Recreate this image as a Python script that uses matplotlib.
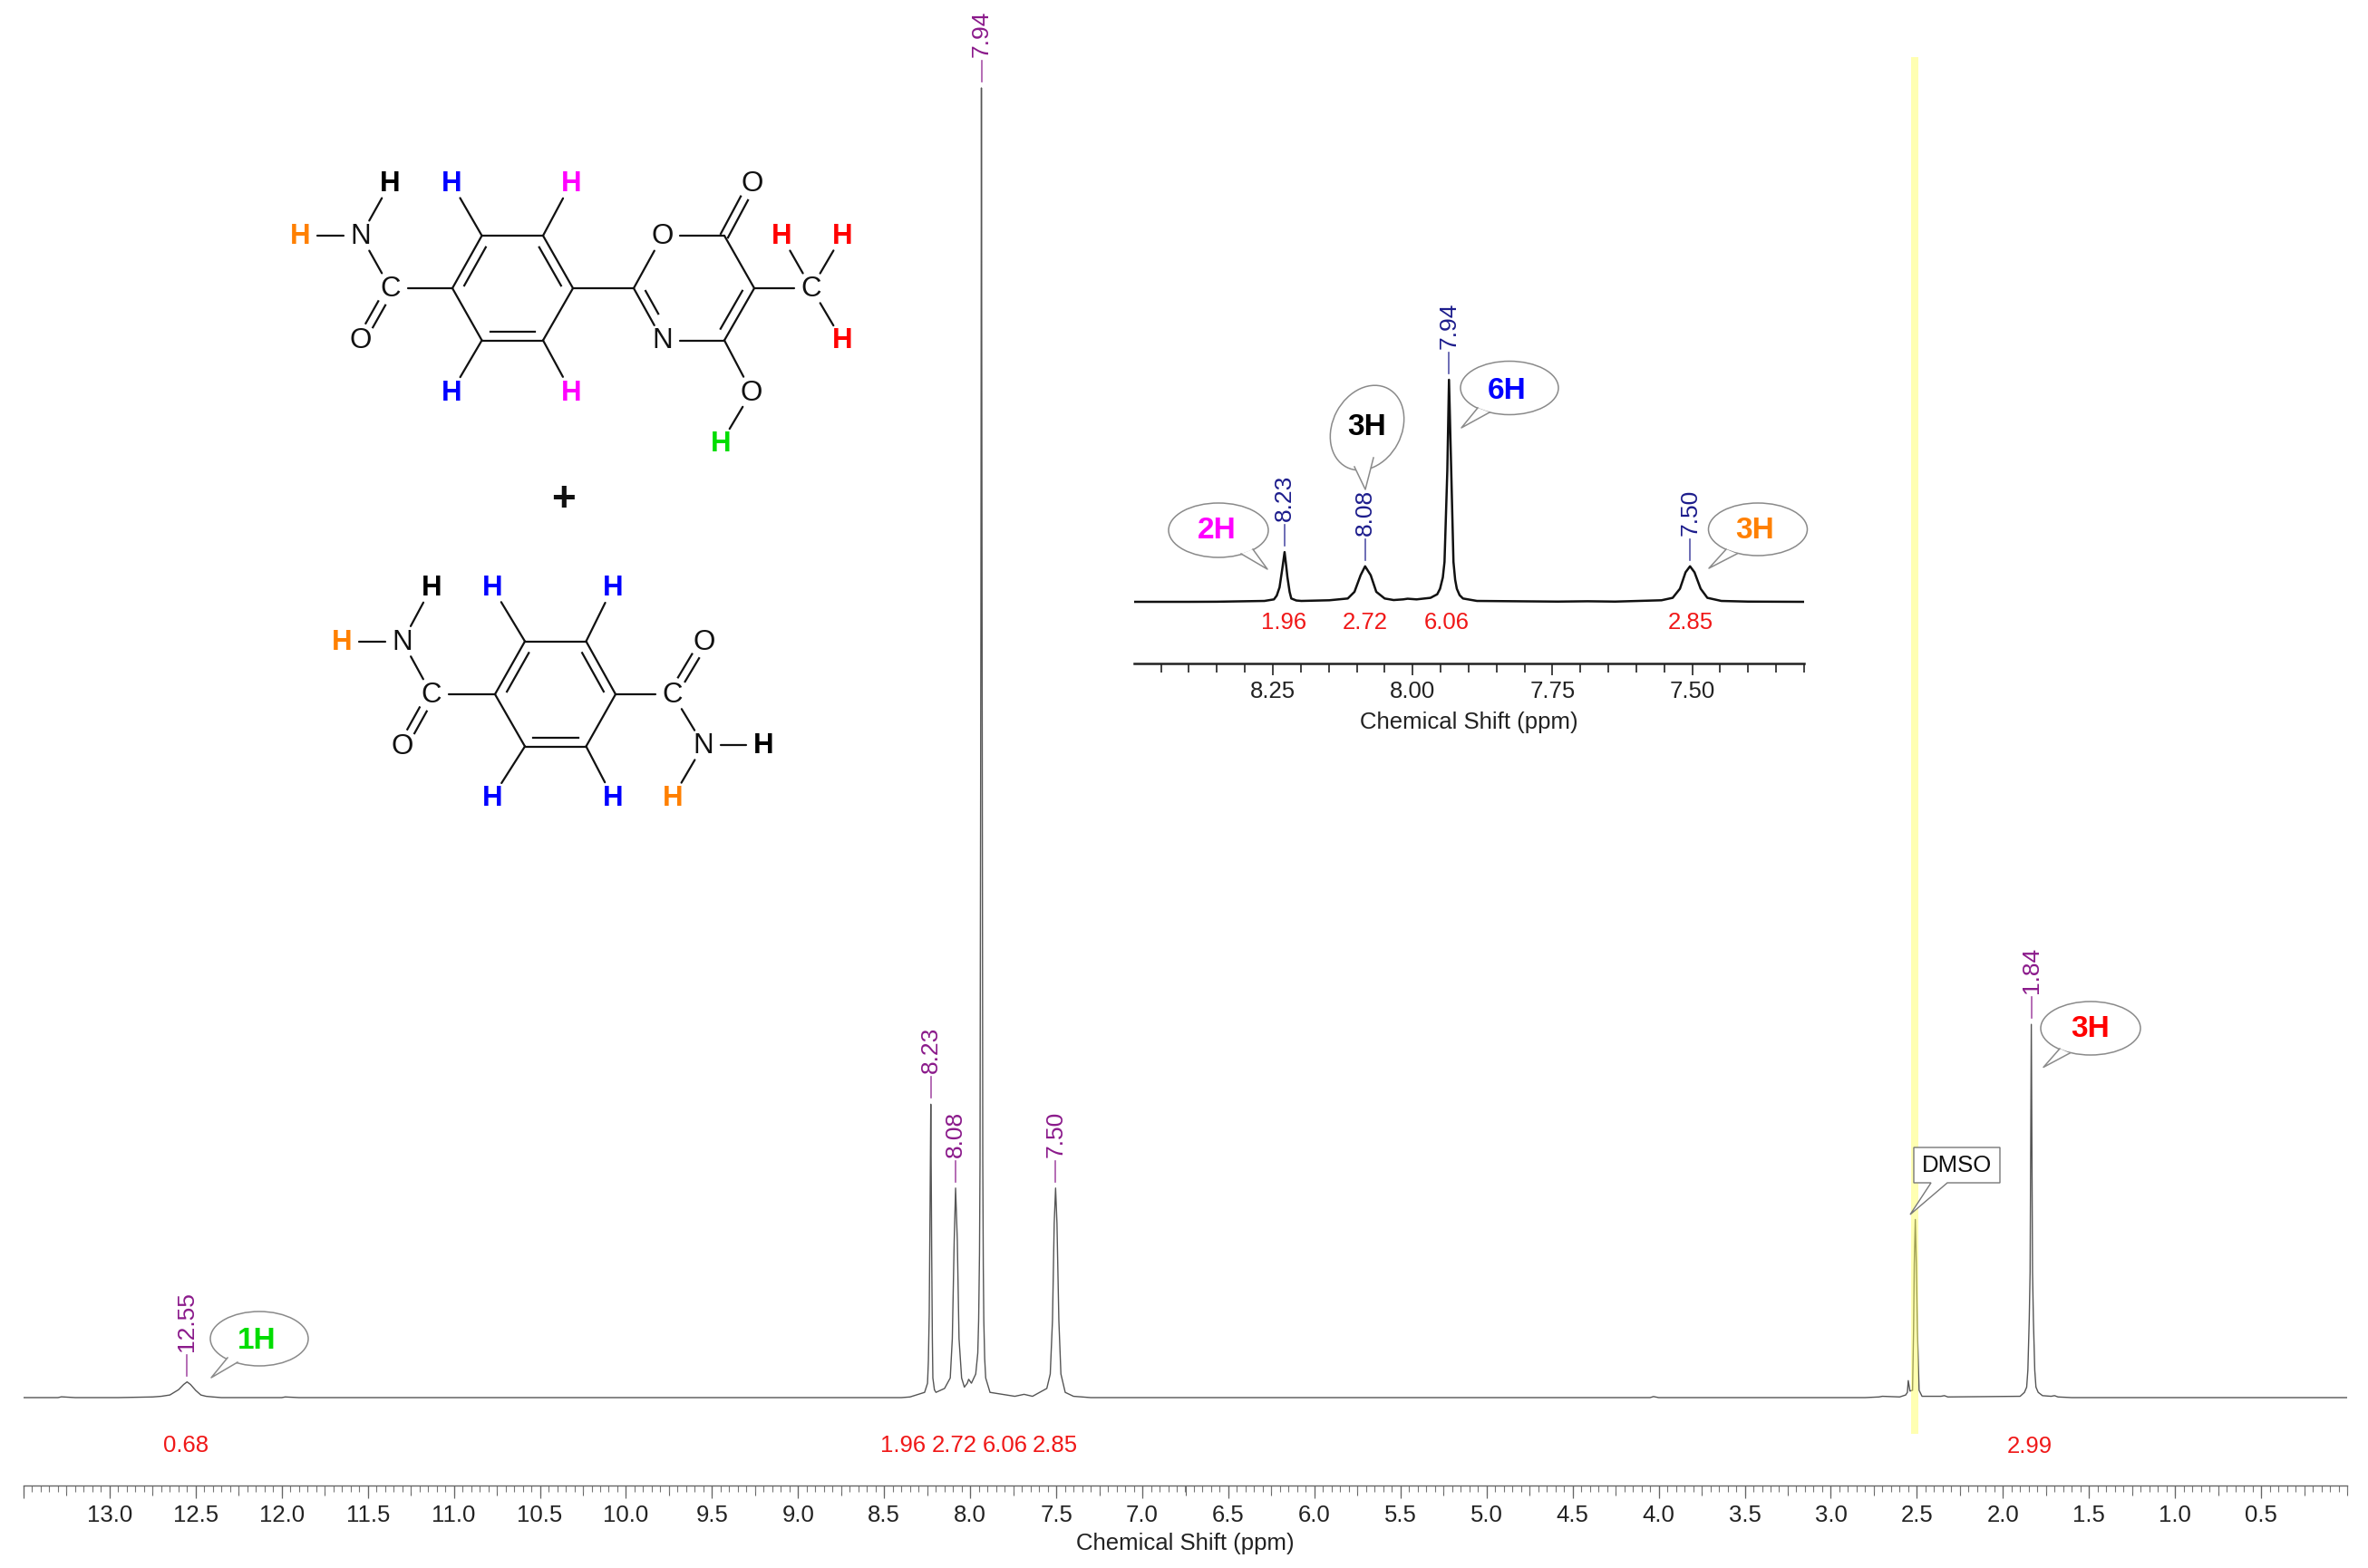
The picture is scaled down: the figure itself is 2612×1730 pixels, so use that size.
import matplotlib
matplotlib.use('Agg')
import matplotlib.pyplot as plt
from matplotlib.patches import Ellipse, Polygon, Rectangle
from matplotlib.ticker import MultipleLocator

plt.rcParams['font.family'] = ['Liberation Sans', 'DejaVu Sans']

# spectrum trace (ppm, intensity with tallest peak = 100)
trace_ppm = [13.5, 13.3, 13.28, 13.2, 12.95, 12.75, 12.7, 12.65, 12.6, 12.57, 12.55, 12.53, 12.5, 12.47, 12.44,
             12.4, 12.35, 12.0, 11.98, 11.9, 8.4, 8.35, 8.265, 8.248, 8.243, 8.238, 8.233, 8.229, 8.226, 8.224,
             8.22, 8.217, 8.208, 8.199, 8.149, 8.116, 8.104, 8.093, 8.085, 8.075, 8.065, 8.05, 8.034, 8.017,
             8.009, 7.993, 7.968, 7.956, 7.951, 7.946, 7.943, 7.938, 7.935, 7.931, 7.927, 7.924, 7.921, 7.916, 7.91, 7.885, 7.741, 7.687,
             7.638, 7.555, 7.535, 7.522, 7.512, 7.504, 7.496, 7.485, 7.473, 7.448, 7.4, 7.35, 7.3, 6.0, 4.05,
             4.03, 4.0, 2.8, 2.72, 2.7, 2.6, 2.565, 2.555, 2.55, 2.54, 2.525, 2.519, 2.515, 2.509, 2.503, 2.497,
             2.487, 2.47, 2.36, 2.34, 2.32, 1.9, 1.875, 1.862, 1.855, 1.847, 1.842, 1.835, 1.828, 1.823, 1.815,
             1.808, 1.795, 1.77, 1.72, 1.7, 1.68, 1.6, 0.0]
trace_int = [0, 0, 0.06, 0, 0, 0.05, 0.1, 0.2, 0.6, 1.0, 1.2, 1.0, 0.55, 0.2, 0.1,
             0.05, 0, 0, 0.05, 0, 0, 0.05, 0.4, 1.1, 2.8, 6.5, 15, 22.4, 16, 11.3,
             4.5, 1.5, 0.6, 0.4, 0.7, 1.5, 4.5, 12, 16, 12, 4.5, 1.5, 0.8, 1.1,
             1.4, 1.1, 1.8, 3.4, 5.9, 11, 18, 59, 100, 59, 18, 10, 5.9, 3.0, 1.5, 0.4, 0.1, 0.25,
             0.1, 0.7, 1.8, 5.9, 13.3, 16, 13.3, 5.9, 1.8, 0.4, 0.1, 0.05, 0, 0, 0,
             0.08, 0, 0, 0.05, 0.1, 0.05, 0.2, 0.4, 1.3, 0.5, 0.56, 5.2, 10.2, 13.6, 10.2, 5.2,
             0.56, 0.1, 0.1, 0.15, 0.05, 0.1, 0.4, 0.8, 2.1, 6, 9.6, 28.5, 9.6, 6, 2.1,
             0.8, 0.4, 0.15, 0.1, 0.15, 0.05, 0, 0]

peak_ppm = [12.55, 8.229, 8.085, 7.935, 7.504, 1.835]
peak_int = [1.2, 22.4, 16, 100, 16, 28.5]
peak_labels = ['12.55', '8.23', '8.08', '7.94', '7.50', '1.84']

inset_peak_ppm = [8.229, 8.085, 7.935, 7.504]
inset_peak_int = [22.4, 16, 100, 16]
inset_peak_labels = ['8.23', '8.08', '7.94', '7.50']

major_ticks = [13.5, 13.0, 12.5, 12.0, 11.5, 11.0, 10.5, 10.0, 9.5, 9.0, 8.5, 8.0, 7.5, 7.0, 6.5, 6.0, 5.5, 5.0,
               4.5, 4.0, 3.5, 3.0, 2.5, 2.0, 1.5, 1.0, 0.5]
major_labels = ['', '13.0', '12.5', '12.0', '11.5', '11.0', '10.5', '10.0', '9.5', '9.0', '8.5', '8.0', '7.5', '7.0',
                '6.5', '6.0', '5.5', '5.0', '4.5', '4.0', '3.5', '3.0', '2.5', '2.0', '1.5', '1.0', '0.5']
inset_ticks = [8.25, 8.0, 7.75, 7.5]
inset_tick_labels = ['8.25', '8.00', '7.75', '7.50']

W, H = 2612, 1730
PURPLE = '#8b1a8b'
NAVY = '#1c1c8c'
RED = '#f01818'


def axes_px(fig, left, right, top, bottom):
    return fig.add_axes([left / W, 1 - bottom / H, (right - left) / W, (bottom - top) / H])


def label_peaks(ax, ppm, heights, labels, px_per_unit, color, size):
    for p, h, lab in zip(ppm, heights, labels):
        ax.plot([p, p], [h + 7 / px_per_unit, h + 30 / px_per_unit], color=color, lw=1.2, clip_on=False, alpha=0.75)
        ax.text(p, h + 34 / px_per_unit, lab, rotation=90, ha='center', va='bottom', color=color, fontsize=size)


def callout(ov, center, w, h, tip, base1, base2, text, text_xy, color, angle=0, size=24):
    ov.add_patch(Ellipse(center, w, h, angle=angle, fc='white', ec='#8a8a8a', lw=1.1, zorder=5))
    ov.add_patch(Polygon([base1, tip, base2], fc='white', ec='none', zorder=6))
    ov.plot([base1[0], tip[0], base2[0]], [base1[1], tip[1], base2[1]], color='#8a8a8a', lw=1.1, zorder=7)
    ov.text(text_xy[0], text_xy[1], text, color=color, fontsize=size, fontweight='bold', ha='center', va='center', zorder=8)


def draw_molecule(ov, atoms, bonds):
    for a, b, kind in bonds:
        x1, y1, t1, _ = atoms[a]
        x2, y2, t2, _ = atoms[b]
        d = ((x2 - x1) ** 2 + (y2 - y1) ** 2) ** 0.5
        ux, uy = (x2 - x1) / d, (y2 - y1) / d
        s1 = 19 if t1 else 0
        s2 = 19 if t2 else 0
        ax1, ay1 = x1 + ux * s1, y1 + uy * s1
        ax2, ay2 = x2 - ux * s2, y2 - uy * s2
        if kind == 2:
            # C=O, two lines either side of the axis
            for off in (-4.5, 4.5):
                ov.plot([ax1 - uy * off, ax2 - uy * off], [ay1 + ux * off, ay2 + ux * off], color='#111111', lw=1.6)
        else:
            ov.plot([ax1, ax2], [ay1, ay2], color='#111111', lw=1.6, solid_capstyle='round')
            if kind != 1:
                # inner line of a ring double bond, kind is the ring centre
                nx, ny = -uy, ux
                if (kind[0] - x1) * nx + (kind[1] - y1) * ny < 0:
                    nx, ny = -nx, -ny
                t1_ = 9 + s1
                t2_ = 9 + s2
                ov.plot([x1 + ux * t1_ + nx * 10, x2 - ux * t2_ + nx * 10],
                        [y1 + uy * t1_ + ny * 10, y2 - uy * t2_ + ny * 10], color='#111111', lw=1.6)
    for x, y, t, c in atoms.values():
        if t:
            ov.text(x, y + 1, t, ha='center', va='center', fontsize=22.5, color=c,
                    fontweight='bold' if t == 'H' else 'normal')


def main():
    fig = plt.figure(figsize=(W / 100, H / 100), dpi=100, facecolor='white')

    # main spectrum
    ax = axes_px(fig, 26, 2589, 0, 1639)
    main_u = 14.45
    ax.set_xlim(13.5, 0.0)
    ax.set_ylim(-(1639 - 1542) / main_u, 1542 / main_u)
    ax.patch.set_alpha(0)
    ax.plot(trace_ppm, trace_int, color='#555555', lw=1.0, solid_joinstyle='round')
    for s in ['top', 'left', 'right']:
        ax.spines[s].set_visible(False)
    ax.spines['bottom'].set_color('#666666')
    ax.spines['bottom'].set_linewidth(1.0)
    ax.set_yticks([])
    ax.set_xticks(major_ticks, labels=major_labels)
    ax.xaxis.set_minor_locator(MultipleLocator(0.05))
    ax.tick_params(axis='x', which='major', length=10, width=0.9, color='#666666', labelsize=18.5, labelcolor='#222222', pad=5)
    ax.tick_params(axis='x', which='minor', length=5, width=0.8, color='#777777')
    sec = ax.secondary_xaxis('bottom')
    sec.xaxis.set_major_locator(MultipleLocator(0.25))
    sec.tick_params(axis='x', length=8, width=0.8, color='#666666', labelbottom=False)
    sec.spines['bottom'].set_visible(False)
    ax.set_xlabel('Chemical Shift (ppm)', fontsize=18.5, color='#222222', labelpad=5)
    label_peaks(ax, peak_ppm, peak_int, peak_labels, main_u, PURPLE, 19)

    # inset
    ins = axes_px(fig, 1251, 1990, 400, 732)
    ins_u = 2.45
    ins.set_xlim(8.498, 7.30)
    ins.set_ylim(-(732 - 664) / ins_u, (664 - 400) / ins_u)
    ins.patch.set_alpha(0)
    ins.plot(trace_ppm, trace_int, color='#111111', lw=1.8, solid_joinstyle='round')
    for s in ['top', 'left', 'right']:
        ins.spines[s].set_visible(False)
    ins.spines['bottom'].set_color('#222222')
    ins.spines['bottom'].set_linewidth(1.8)
    ins.set_yticks([])
    ins.set_xticks(inset_ticks, labels=inset_tick_labels)
    ins.xaxis.set_minor_locator(MultipleLocator(0.05))
    ins.tick_params(axis='x', which='major', length=9, width=1.2, color='#222222', labelsize=18.5, labelcolor='#222222', pad=5)
    ins.tick_params(axis='x', which='minor', length=7, width=1.2, color='#222222')
    ins.set_xlabel('Chemical Shift (ppm)', fontsize=18.5, color='#222222', labelpad=7)
    label_peaks(ins, inset_peak_ppm, inset_peak_int, inset_peak_labels, ins_u, NAVY, 19)

    # overlay in picture pixels for the drawn annotations
    ov = fig.add_axes([0, 0, 1, 1])
    ov.set_xlim(0, W)
    ov.set_ylim(H, 0)
    ov.axis('off')
    ov.patch.set_alpha(0)

    ov.add_patch(Rectangle((2108, 63), 8, 1519, fc='#ffff55', ec='none', alpha=0.45, zorder=1))

    for x, y, t in [(205, 1595, '0.68'), (996, 1595, '1.96'), (1053, 1595, '2.72'), (1109, 1595, '6.06'),
                    (1164, 1595, '2.85'), (2239, 1596, '2.99')]:
        ov.text(x, y, t, color=RED, fontsize=18.5, ha='center', va='center')
    for x, y, t in [(1416, 687, '1.96'), (1506, 687, '2.72'), (1596, 687, '6.06'), (1865, 687, '2.85')]:
        ov.text(x, y, t, color=RED, fontsize=18.5, ha='center', va='center')

    callout(ov, (286, 1477), 108, 60, (233, 1520), (251, 1498), (262, 1503), '1H', (283, 1480), '#00dd00')
    callout(ov, (2306, 1134.5), 110, 59, (2254, 1177.5), (2272, 1157), (2283, 1162), '3H', (2306, 1136), '#ff0000')
    callout(ov, (1344, 585), 110, 60, (1398, 628), (1369, 611), (1382, 606), '2H', (1342, 586), '#ff00ff')
    callout(ov, (1508, 472), 98, 76, (1506, 540), (1494, 515), (1515, 505), '3H', (1508, 471), '#000000', angle=-62)
    callout(ov, (1665, 428), 108, 59, (1612, 472), (1630, 450), (1643, 455), '6H', (1662, 431), '#0000ff')
    callout(ov, (1939, 584), 109, 58, (1885, 627), (1904, 606), (1916, 611), '3H', (1936, 586), '#ff8000')

    # DMSO box
    ov.add_patch(Polygon([(2111, 1266), (2206, 1266), (2206, 1305), (2148, 1305), (2107, 1340), (2130, 1305), (2111, 1305)],
                         fc='white', ec='#777777', lw=1.0, zorder=5))
    ov.text(2158, 1286, 'DMSO', fontsize=18.5, color='#111111', ha='center', va='center', zorder=6)

    ov.text(622, 552, '+', fontsize=33, fontweight='bold', color='#111111', ha='center', va='center')

    k = '#111111'
    mol1 = {
        'a1': (499, 318, None, k), 'a2': (531.5, 260, None, k), 'a3': (599, 260, None, k),
        'a4': (632, 318, None, k), 'a5': (599, 375.5, None, k), 'a6': (531.5, 375.5, None, k),
        'C': (430.5, 318, 'C', k), 'O': (398, 375.5, 'O', k), 'N': (398, 260, 'N', k),
        'Hk': (430.5, 202, 'H', '#000000'), 'Ho': (331, 260, 'H', '#ff8000'),
        'Hb1': (498, 202, 'H', '#0000ff'), 'Hm1': (630, 202, 'H', '#ff00ff'),
        'Hb2': (498, 432.5, 'H', '#0000ff'), 'Hm2': (630, 432.5, 'H', '#ff00ff'),
        'b1': (699, 318, None, k), 'bO': (731, 260, 'O', k), 'b3': (799, 260, None, k),
        'b4': (832, 318, None, k), 'b5': (799, 375.5, None, k), 'bN': (731, 375.5, 'N', k),
        'Oc': (830, 202, 'O', k), 'Cm': (895, 318, 'C', k),
        'Hr1': (862, 260, 'H', '#ff0000'), 'Hr2': (929, 260, 'H', '#ff0000'), 'Hr3': (929, 375.5, 'H', '#ff0000'),
        'Oh': (829, 432.5, 'O', k), 'Hg': (795, 489.5, 'H', '#00dd00'),
    }
    ca = (565, 318)
    cb = (765, 318)
    bonds1 = [
        ('a1', 'a2', ca), ('a2', 'a3', 1), ('a3', 'a4', ca), ('a4', 'a5', 1), ('a5', 'a6', ca), ('a6', 'a1', 1),
        ('a1', 'C', 1), ('C', 'O', 2), ('C', 'N', 1), ('N', 'Hk', 1), ('N', 'Ho', 1),
        ('a2', 'Hb1', 1), ('a3', 'Hm1', 1), ('a6', 'Hb2', 1), ('a5', 'Hm2', 1), ('a4', 'b1', 1),
        ('b1', 'bO', 1), ('bO', 'b3', 1), ('b3', 'b4', 1), ('b4', 'b5', cb), ('b5', 'bN', 1), ('bN', 'b1', cb),
        ('b3', 'Oc', 2), ('b4', 'Cm', 1), ('Cm', 'Hr1', 1), ('Cm', 'Hr2', 1), ('Cm', 'Hr3', 1),
        ('b5', 'Oh', 1), ('Oh', 'Hg', 1),
    ]
    draw_molecule(ov, mol1, bonds1)

    mol2 = {
        'a1': (546, 766, None, k), 'a2': (579, 707.6, None, k), 'a3': (646.5, 707.6, None, k),
        'a4': (679, 766, None, k), 'a5': (646.5, 823.5, None, k), 'a6': (579, 823.5, None, k),
        'C': (476, 766, 'C', k), 'O': (444, 823.5, 'O', k), 'N': (444, 707.6, 'N', k),
        'Hk': (476, 648, 'H', '#000000'), 'Ho': (377, 707.6, 'H', '#ff8000'),
        'Hb1': (543, 648, 'H', '#0000ff'), 'Hb2': (676, 648, 'H', '#0000ff'),
        'Hb3': (543, 880, 'H', '#0000ff'), 'Hb4': (676, 880, 'H', '#0000ff'),
        'C2': (742, 766, 'C', k), 'O2': (777, 707.6, 'O', k), 'N2': (776, 822, 'N', k),
        'Hk2': (842, 822, 'H', '#000000'), 'Ho2': (742, 880, 'H', '#ff8000'),
    }
    cc = (612.5, 766)
    bonds2 = [
        ('a1', 'a2', cc), ('a2', 'a3', 1), ('a3', 'a4', cc), ('a4', 'a5', 1), ('a5', 'a6', cc), ('a6', 'a1', 1),
        ('a1', 'C', 1), ('C', 'O', 2), ('C', 'N', 1), ('N', 'Hk', 1), ('N', 'Ho', 1),
        ('a2', 'Hb1', 1), ('a3', 'Hb2', 1), ('a6', 'Hb3', 1), ('a5', 'Hb4', 1),
        ('a4', 'C2', 1), ('C2', 'O2', 2), ('C2', 'N2', 1), ('N2', 'Hk2', 1), ('N2', 'Ho2', 1),
    ]
    draw_molecule(ov, mol2, bonds2)

    fig.savefig('out.png', dpi=100, facecolor='white')


if __name__ == "__main__":
    main()
